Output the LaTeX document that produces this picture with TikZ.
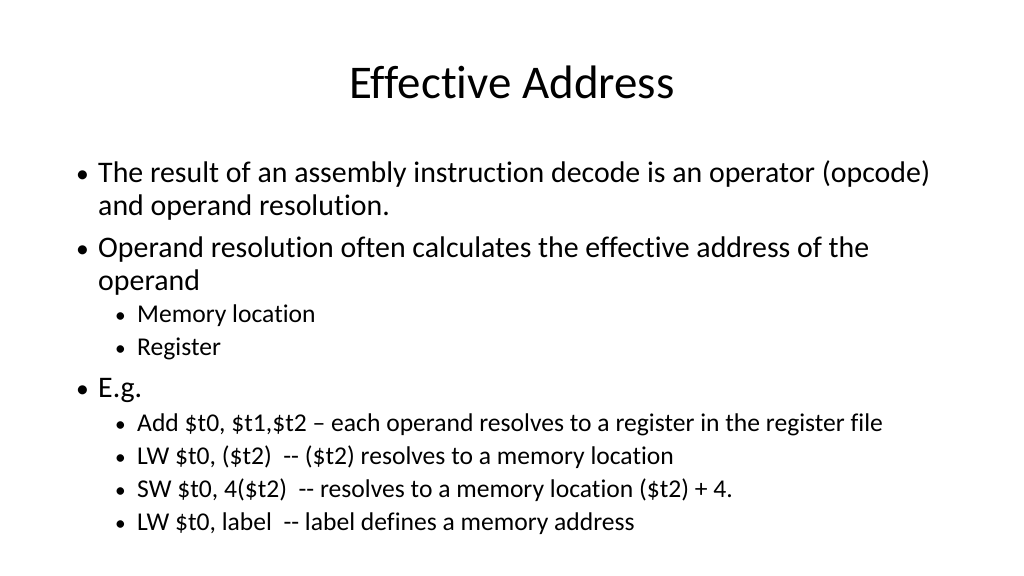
\documentclass[tikz,border=0pt]{standalone}
\usepackage{fontspec}
\setmainfont{Carlito}[Ligatures=NoCommon]
\usetikzlibrary{positioning}

\tikzset{
  lvlone/.style={anchor=base west, font=\fontsize{28}{32}\selectfont},
  lvltwo/.style={anchor=base west, font=\fontsize{24}{28}\selectfont},
}

\begin{document}
\begin{tikzpicture}[x=0.9375pt, y=-0.9375pt]
\useasboundingbox (0,0) rectangle (1024,576);
\node[anchor=base, font=\fontsize{44}{52}\selectfont] (title) at (512,99) {Effective Address};
% first level
\foreach \yy/\txt [count=\i] in {182/The result of an assembly instruction decode is an operator (opcode),
                                  257/Operand resolution often calculates the effective address of the,
                                  397/E.g.}{
  \node[lvltwo, inner sep=0pt] (bul\i) at (76,\yy) {\textbullet};
  \node[lvlone, inner sep=0pt] (one\i) at (98,\yy) {\txt};
}
\node[lvlone, inner sep=0pt] (onecont1) at (98,215) {and operand resolution.};
\node[lvlone, inner sep=0pt] (onecont2) at (98,290) {operand};
% second level
\foreach \yy/\txt [count=\i] in {322/Memory location, 355/Register,
                                  431/{Add \$t0, \$t1,\$t2 -- each operand resolves to a register in the register file},
                                  464/{LW \$t0, (\$t2)~ -{}- (\$t2) resolves to a memory location},
                                  497/{SW \$t0, 4(\$t2)~ -{}- resolves to a memory location (\$t2) + 4.},
                                  530/{LW \$t0, label~ -{}- label defines a memory address}}{
  \node[lvltwo, inner sep=0pt, font=\fontsize{20}{24}\selectfont] (subbul\i) at (115,\yy) {\textbullet};
  \node[lvltwo, inner sep=0pt] (two\i) at (137,\yy) {\txt};
}
\end{tikzpicture}
\end{document}
